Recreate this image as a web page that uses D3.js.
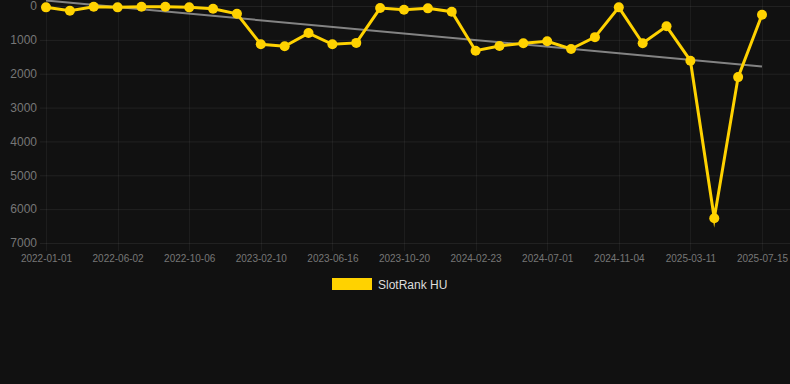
<!DOCTYPE html>
<html>
<head>
<meta charset="utf-8">
<script src="https://cdn.jsdelivr.net/npm/d3@7/dist/d3.min.js"></script>
<style>
html,body{margin:0;padding:0;background:#111111;}
svg{display:block;}
</style>
</head>
<body>
<svg id="chart" width="790" height="384"></svg>
<script>
const dates = [
  "2022-01-01","2022-02-20","2022-04-11","2022-06-02","2022-07-14","2022-08-25",
  "2022-10-06","2022-11-17","2022-12-29","2023-02-10","2023-03-24","2023-05-05",
  "2023-06-16","2023-07-28","2023-09-08","2023-10-20","2023-12-01","2024-01-12",
  "2024-02-23","2024-04-05","2024-05-20","2024-07-01","2024-08-12","2024-09-23",
  "2024-11-04","2024-12-16","2025-01-27","2025-03-11","2025-04-22","2025-06-03",
  "2025-07-15"
];
const rankValues = [
  40,140,20,40,20,20,40,80,230,1130,1190,800,1130,1090,60,110,70,170,
  1320,1180,1100,1040,1270,920,40,1100,600,1615,6270,2100,257
];
const yTicks = [0,1000,2000,3000,4000,5000,6000,7000];
const seriesName = "SlotRank HU";

(function () {
const svg = d3.select("#chart");
const pLeft = 40, pRight = 790, pTop = 6, pBottom = 243;

const x = d3.scalePoint().domain(dates).range([46, 762]);
const y = d3.scaleLinear().domain([0, 7000]).range([pTop, pBottom]);

const tickDates = dates.filter((d, i) => i % 3 === 0);

// horizontal grid
svg.append("g").selectAll("line").data(yTicks).join("line")
  .attr("x1", pLeft).attr("x2", pRight)
  .attr("y1", d => y(d) + 0.5).attr("y2", d => y(d) + 0.5)
  .attr("stroke", "rgba(255,255,255,0.07)").attr("stroke-width", 1);

// vertical grid
svg.append("g").selectAll("line").data(tickDates).join("line")
  .attr("x1", d => Math.round(x(d)) + 0.5).attr("x2", d => Math.round(x(d)) + 0.5)
  .attr("y1", 0).attr("y2", pBottom + 8)
  .attr("stroke", "rgba(255,255,255,0.05)").attr("stroke-width", 1);

// y axis
const yAxis = d3.axisLeft(y).tickValues(yTicks).tickSize(0).tickPadding(0).tickFormat(d3.format("d"));
const gy = svg.append("g").attr("transform", "translate(37,0)").call(yAxis);
gy.select(".domain").remove();
gy.selectAll("text").attr("fill", "#777").attr("font-family", "Liberation Sans, Arial, sans-serif").attr("font-size", 12);

// x axis
const xAxis = d3.axisBottom(x).tickValues(tickDates).tickSize(0).tickPadding(0);
const gx = svg.append("g").attr("transform", `translate(0,${pBottom + 12})`).call(xAxis);
gx.select(".domain").remove();
gx.selectAll("text").attr("fill", "#777").attr("font-family", "Liberation Sans, Arial, sans-serif").attr("font-size", 10).attr("dy", "0.71em");

// trend line (least squares)
const n = rankValues.length;
const idx = d3.range(n);
const mx = d3.mean(idx), my = d3.mean(rankValues);
const slope = d3.sum(idx, i => (i - mx) * (rankValues[i] - my)) / d3.sum(idx, i => (i - mx) ** 2);
const intercept = my - slope * mx;
svg.append("line")
  .attr("x1", x(dates[0])).attr("y1", y(intercept))
  .attr("x2", x(dates[n - 1])).attr("y2", y(intercept + slope * (n - 1)))
  .attr("stroke", "rgba(170,170,170,0.75)").attr("stroke-width", 2);

// series line
const color = "#FFD200";
const line = d3.line().x((d, i) => x(dates[i])).y(d => y(d));
svg.append("path").datum(rankValues)
  .attr("d", line).attr("fill", "none")
  .attr("stroke", color).attr("stroke-width", 3)
  .attr("stroke-linejoin", "miter").attr("stroke-miterlimit", 10);

svg.append("g").selectAll("circle").data(rankValues).join("circle")
  .attr("cx", (d, i) => x(dates[i])).attr("cy", d => y(d))
  .attr("r", 5).attr("fill", color);

// legend
svg.append("rect").attr("x", 332).attr("y", 278).attr("width", 40).attr("height", 12).attr("fill", color);
svg.append("text").attr("x", 378).attr("y", 289)
  .attr("fill", "#dddddd").attr("font-family", "Liberation Sans, Arial, sans-serif").attr("font-size", 12)
  .text(seriesName);
})();
</script>
</body>
</html>
